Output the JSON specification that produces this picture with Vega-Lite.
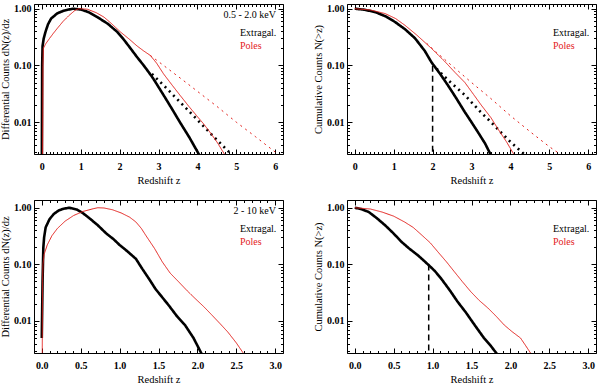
{
  "$schema": "https://vega.github.io/schema/vega-lite/v6.json",
  "padding": {"left": 0, "top": 3, "right": 0, "bottom": 0},
  "background": "white",
  "config": {
    "font": "Liberation Serif",
    "view": {"stroke": null},
    "axis": {
      "labelFont": "Liberation Serif", "titleFont": "Liberation Serif",
      "labelFontWeight": "bold", "labelFontSize": 10, "labelColor": "black",
      "titleFontSize": 10.5, "titleFontWeight": "normal", "titleColor": "black",
      "domainColor": "black", "domainWidth": 1, "tickColor": "black", "tickWidth": 1, "grid": false
    },
    "legend": {
      "orient": "top-right", "offset": 6, "padding": 0,
      "titleFont": "Liberation Serif", "titleFontSize": 10, "titleFontWeight": "normal", "titleColor": "black",
      "titleAnchor": "end", "titlePadding": 8,
      "labelFont": "Liberation Serif", "labelFontSize": 10, "labelOffset": 13, "rowPadding": 3,
      "symbolSize": 0, "symbolStrokeWidth": 0, "symbolOpacity": 0
    }
  },
  "datasets": {
    "d1": [
      {"s":"Extragal.","k":"solid","z":0.0,"n":0.001},{"s":"Extragal.","k":"solid","z":0.01,"n":0.1},{"s":"Extragal.","k":"solid","z":0.02,"n":0.22},{"s":"Extragal.","k":"solid","z":0.05,"n":0.3},{"s":"Extragal.","k":"solid","z":0.1,"n":0.4},{"s":"Extragal.","k":"solid","z":0.16,"n":0.53},{"s":"Extragal.","k":"solid","z":0.24,"n":0.67},{"s":"Extragal.","k":"solid","z":0.4,"n":0.83},{"s":"Extragal.","k":"solid","z":0.58,"n":0.93},{"s":"Extragal.","k":"solid","z":0.8,"n":1.0},{"s":"Extragal.","k":"solid","z":1.0,"n":0.97},{"s":"Extragal.","k":"solid","z":1.2,"n":0.87},{"s":"Extragal.","k":"solid","z":1.43,"n":0.71},{"s":"Extragal.","k":"solid","z":1.7,"n":0.54},{"s":"Extragal.","k":"solid","z":1.94,"n":0.39},{"s":"Extragal.","k":"solid","z":2.1,"n":0.29},{"s":"Extragal.","k":"solid","z":2.28,"n":0.2},{"s":"Extragal.","k":"solid","z":2.45,"n":0.14},{"s":"Extragal.","k":"solid","z":2.62,"n":0.1},{"s":"Extragal.","k":"solid","z":2.8,"n":0.068},{"s":"Extragal.","k":"solid","z":2.87,"n":0.058},{"s":"Extragal.","k":"solid","z":3.13,"n":0.03},{"s":"Extragal.","k":"solid","z":3.35,"n":0.017},{"s":"Extragal.","k":"solid","z":3.55,"n":0.01},{"s":"Extragal.","k":"solid","z":3.8,"n":0.0053},{"s":"Extragal.","k":"solid","z":4.04,"n":0.0027},{"s":"Extragal.","k":"solid","z":4.1,"n":0.0023},
      {"s":"Extragal.","k":"dotted","z":2.83,"n":0.071},{"s":"Extragal.","k":"dotted","z":3.2,"n":0.04},{"s":"Extragal.","k":"dotted","z":3.6,"n":0.021},{"s":"Extragal.","k":"dotted","z":4.0,"n":0.011},{"s":"Extragal.","k":"dotted","z":4.4,"n":0.0057},{"s":"Extragal.","k":"dotted","z":4.9,"n":0.0026},{"s":"Extragal.","k":"dotted","z":4.95,"n":0.0024},
      {"s":"Poles","k":"solid","z":0.02,"n":0.001},{"s":"Poles","k":"solid","z":0.03,"n":0.1},{"s":"Poles","k":"solid","z":0.04,"n":0.2},{"s":"Poles","k":"solid","z":0.1,"n":0.24},{"s":"Poles","k":"solid","z":0.2,"n":0.3},{"s":"Poles","k":"solid","z":0.3,"n":0.37},{"s":"Poles","k":"solid","z":0.41,"n":0.46},{"s":"Poles","k":"solid","z":0.55,"n":0.6},{"s":"Poles","k":"solid","z":0.7,"n":0.76},{"s":"Poles","k":"solid","z":0.85,"n":0.93},{"s":"Poles","k":"solid","z":0.95,"n":1.0},{"s":"Poles","k":"solid","z":1.17,"n":0.98},{"s":"Poles","k":"solid","z":1.4,"n":0.85},{"s":"Poles","k":"solid","z":1.6,"n":0.71},{"s":"Poles","k":"solid","z":1.8,"n":0.54},{"s":"Poles","k":"solid","z":2.02,"n":0.39},{"s":"Poles","k":"solid","z":2.25,"n":0.29},{"s":"Poles","k":"solid","z":2.45,"n":0.22},{"s":"Poles","k":"solid","z":2.62,"n":0.18},{"s":"Poles","k":"solid","z":2.79,"n":0.15},{"s":"Poles","k":"solid","z":2.95,"n":0.11},{"s":"Poles","k":"solid","z":3.13,"n":0.071},{"s":"Poles","k":"solid","z":3.35,"n":0.045},{"s":"Poles","k":"solid","z":3.55,"n":0.03},{"s":"Poles","k":"solid","z":3.78,"n":0.019},{"s":"Poles","k":"solid","z":3.98,"n":0.013},{"s":"Poles","k":"solid","z":4.15,"n":0.0095},{"s":"Poles","k":"solid","z":4.32,"n":0.0067},{"s":"Poles","k":"solid","z":4.5,"n":0.0045},{"s":"Poles","k":"solid","z":4.7,"n":0.0027},{"s":"Poles","k":"solid","z":4.75,"n":0.0023},
      {"s":"Poles","k":"dotted","z":2.79,"n":0.15},{"s":"Poles","k":"dotted","z":3.2,"n":0.092},{"s":"Poles","k":"dotted","z":3.6,"n":0.057},{"s":"Poles","k":"dotted","z":4.0,"n":0.035},{"s":"Poles","k":"dotted","z":4.5,"n":0.019},{"s":"Poles","k":"dotted","z":5.0,"n":0.01},{"s":"Poles","k":"dotted","z":5.5,"n":0.0055},{"s":"Poles","k":"dotted","z":6.05,"n":0.0028},{"s":"Poles","k":"dotted","z":6.1,"n":0.0026}
    ],
    "d2": [
      {"s":"Extragal.","k":"solid","z":0.0,"n":1.0},{"s":"Extragal.","k":"solid","z":0.25,"n":0.96},{"s":"Extragal.","k":"solid","z":0.53,"n":0.87},{"s":"Extragal.","k":"solid","z":0.8,"n":0.73},{"s":"Extragal.","k":"solid","z":1.04,"n":0.58},{"s":"Extragal.","k":"solid","z":1.3,"n":0.43},{"s":"Extragal.","k":"solid","z":1.55,"n":0.3},{"s":"Extragal.","k":"solid","z":1.8,"n":0.18},{"s":"Extragal.","k":"solid","z":1.97,"n":0.114},{"s":"Extragal.","k":"solid","z":2.2,"n":0.07},{"s":"Extragal.","k":"solid","z":2.4,"n":0.044},{"s":"Extragal.","k":"solid","z":2.6,"n":0.027},{"s":"Extragal.","k":"solid","z":2.83,"n":0.015},{"s":"Extragal.","k":"solid","z":3.0,"n":0.01},{"s":"Extragal.","k":"solid","z":3.17,"n":0.0066},{"s":"Extragal.","k":"solid","z":3.35,"n":0.0042},{"s":"Extragal.","k":"solid","z":3.49,"n":0.0027},{"s":"Extragal.","k":"solid","z":3.55,"n":0.0022},
      {"s":"Extragal.","k":"dotted","z":2.1,"n":0.088},{"s":"Extragal.","k":"dotted","z":2.4,"n":0.055},{"s":"Extragal.","k":"dotted","z":2.83,"n":0.03},{"s":"Extragal.","k":"dotted","z":3.2,"n":0.016},{"s":"Extragal.","k":"dotted","z":3.5,"n":0.01},{"s":"Extragal.","k":"dotted","z":4.0,"n":0.0045},{"s":"Extragal.","k":"dotted","z":4.36,"n":0.0027},{"s":"Extragal.","k":"dotted","z":4.45,"n":0.0023},
      {"s":"Poles","k":"solid","z":0.0,"n":1.0},{"s":"Poles","k":"solid","z":0.4,"n":0.95},{"s":"Poles","k":"solid","z":0.78,"n":0.82},{"s":"Poles","k":"solid","z":1.05,"n":0.67},{"s":"Poles","k":"solid","z":1.29,"n":0.51},{"s":"Poles","k":"solid","z":1.6,"n":0.34},{"s":"Poles","k":"solid","z":1.97,"n":0.2},{"s":"Poles","k":"solid","z":2.3,"n":0.12},{"s":"Poles","k":"solid","z":2.57,"n":0.076},{"s":"Poles","k":"solid","z":2.83,"n":0.05},{"s":"Poles","k":"solid","z":3.05,"n":0.031},{"s":"Poles","k":"solid","z":3.25,"n":0.02},{"s":"Poles","k":"solid","z":3.5,"n":0.012},{"s":"Poles","k":"solid","z":3.68,"n":0.0076},{"s":"Poles","k":"solid","z":3.9,"n":0.0045},{"s":"Poles","k":"solid","z":4.09,"n":0.0027},{"s":"Poles","k":"solid","z":4.15,"n":0.0023},
      {"s":"Poles","k":"dotted","z":1.85,"n":0.245},{"s":"Poles","k":"dotted","z":2.1,"n":0.17},{"s":"Poles","k":"dotted","z":2.49,"n":0.1},{"s":"Poles","k":"dotted","z":3.0,"n":0.05},{"s":"Poles","k":"dotted","z":3.5,"n":0.026},{"s":"Poles","k":"dotted","z":4.0,"n":0.013},{"s":"Poles","k":"dotted","z":4.53,"n":0.0066},{"s":"Poles","k":"dotted","z":5.0,"n":0.0037},{"s":"Poles","k":"dotted","z":5.29,"n":0.0027},{"s":"Poles","k":"dotted","z":5.35,"n":0.0024}
    ],
    "d3": [
      {"s":"Extragal.","k":"solid","z":0.0,"n":0.005},{"s":"Extragal.","k":"solid","z":0.01,"n":0.05},{"s":"Extragal.","k":"solid","z":0.02,"n":0.2},{"s":"Extragal.","k":"solid","z":0.03,"n":0.3},{"s":"Extragal.","k":"solid","z":0.05,"n":0.45},{"s":"Extragal.","k":"solid","z":0.1,"n":0.63},{"s":"Extragal.","k":"solid","z":0.156,"n":0.78},{"s":"Extragal.","k":"solid","z":0.22,"n":0.9},{"s":"Extragal.","k":"solid","z":0.28,"n":0.96},{"s":"Extragal.","k":"solid","z":0.35,"n":1.0},{"s":"Extragal.","k":"solid","z":0.45,"n":0.93},{"s":"Extragal.","k":"solid","z":0.53,"n":0.8},{"s":"Extragal.","k":"solid","z":0.62,"n":0.64},{"s":"Extragal.","k":"solid","z":0.72,"n":0.49},{"s":"Extragal.","k":"solid","z":0.83,"n":0.35},{"s":"Extragal.","k":"solid","z":0.92,"n":0.28},{"s":"Extragal.","k":"solid","z":1.0,"n":0.22},{"s":"Extragal.","k":"solid","z":1.1,"n":0.17},{"s":"Extragal.","k":"solid","z":1.21,"n":0.125},{"s":"Extragal.","k":"solid","z":1.29,"n":0.084},{"s":"Extragal.","k":"solid","z":1.38,"n":0.055},{"s":"Extragal.","k":"solid","z":1.46,"n":0.037},{"s":"Extragal.","k":"solid","z":1.55,"n":0.026},{"s":"Extragal.","k":"solid","z":1.63,"n":0.019},{"s":"Extragal.","k":"solid","z":1.74,"n":0.012},{"s":"Extragal.","k":"solid","z":1.84,"n":0.0085},{"s":"Extragal.","k":"solid","z":1.95,"n":0.005},{"s":"Extragal.","k":"solid","z":2.05,"n":0.0027},{"s":"Extragal.","k":"solid","z":2.08,"n":0.0023},
      {"s":"Poles","k":"solid","z":0.005,"n":0.001},{"s":"Poles","k":"solid","z":0.01,"n":0.05},{"s":"Poles","k":"solid","z":0.015,"n":0.1},{"s":"Poles","k":"solid","z":0.03,"n":0.15},{"s":"Poles","k":"solid","z":0.07,"n":0.22},{"s":"Poles","k":"solid","z":0.13,"n":0.32},{"s":"Poles","k":"solid","z":0.2,"n":0.43},{"s":"Poles","k":"solid","z":0.3,"n":0.58},{"s":"Poles","k":"solid","z":0.41,"n":0.73},{"s":"Poles","k":"solid","z":0.53,"n":0.86},{"s":"Poles","k":"solid","z":0.66,"n":0.96},{"s":"Poles","k":"solid","z":0.72,"n":1.0},{"s":"Poles","k":"solid","z":0.8,"n":0.99},{"s":"Poles","k":"solid","z":0.91,"n":0.92},{"s":"Poles","k":"solid","z":1.02,"n":0.81},{"s":"Poles","k":"solid","z":1.13,"n":0.68},{"s":"Poles","k":"solid","z":1.21,"n":0.56},{"s":"Poles","k":"solid","z":1.28,"n":0.43},{"s":"Poles","k":"solid","z":1.34,"n":0.32},{"s":"Poles","k":"solid","z":1.45,"n":0.19},{"s":"Poles","k":"solid","z":1.55,"n":0.11},{"s":"Poles","k":"solid","z":1.65,"n":0.07},{"s":"Poles","k":"solid","z":1.76,"n":0.049},{"s":"Poles","k":"solid","z":1.87,"n":0.034},{"s":"Poles","k":"solid","z":1.97,"n":0.025},{"s":"Poles","k":"solid","z":2.08,"n":0.018},{"s":"Poles","k":"solid","z":2.18,"n":0.013},{"s":"Poles","k":"solid","z":2.29,"n":0.009},{"s":"Poles","k":"solid","z":2.39,"n":0.0064},{"s":"Poles","k":"solid","z":2.5,"n":0.0041},{"s":"Poles","k":"solid","z":2.59,"n":0.0027},{"s":"Poles","k":"solid","z":2.62,"n":0.0024}
    ],
    "d4": [
      {"s":"Extragal.","k":"solid","z":0.0,"n":1.0},{"s":"Extragal.","k":"solid","z":0.08,"n":0.95},{"s":"Extragal.","k":"solid","z":0.18,"n":0.84},{"s":"Extragal.","k":"solid","z":0.28,"n":0.66},{"s":"Extragal.","k":"solid","z":0.39,"n":0.49},{"s":"Extragal.","k":"solid","z":0.5,"n":0.35},{"s":"Extragal.","k":"solid","z":0.6,"n":0.25},{"s":"Extragal.","k":"solid","z":0.7,"n":0.19},{"s":"Extragal.","k":"solid","z":0.81,"n":0.145},{"s":"Extragal.","k":"solid","z":0.94,"n":0.1},{"s":"Extragal.","k":"solid","z":1.03,"n":0.076},{"s":"Extragal.","k":"solid","z":1.11,"n":0.056},{"s":"Extragal.","k":"solid","z":1.22,"n":0.035},{"s":"Extragal.","k":"solid","z":1.32,"n":0.022},{"s":"Extragal.","k":"solid","z":1.43,"n":0.014},{"s":"Extragal.","k":"solid","z":1.54,"n":0.0085},{"s":"Extragal.","k":"solid","z":1.66,"n":0.005},{"s":"Extragal.","k":"solid","z":1.75,"n":0.0036},{"s":"Extragal.","k":"solid","z":1.82,"n":0.0027},{"s":"Extragal.","k":"solid","z":1.86,"n":0.0023},
      {"s":"Poles","k":"solid","z":0.0,"n":1.0},{"s":"Poles","k":"solid","z":0.2,"n":0.95},{"s":"Poles","k":"solid","z":0.35,"n":0.84},{"s":"Poles","k":"solid","z":0.5,"n":0.71},{"s":"Poles","k":"solid","z":0.64,"n":0.56},{"s":"Poles","k":"solid","z":0.75,"n":0.45},{"s":"Poles","k":"solid","z":0.86,"n":0.33},{"s":"Poles","k":"solid","z":0.97,"n":0.24},{"s":"Poles","k":"solid","z":1.07,"n":0.165},{"s":"Poles","k":"solid","z":1.18,"n":0.11},{"s":"Poles","k":"solid","z":1.28,"n":0.074},{"s":"Poles","k":"solid","z":1.38,"n":0.05},{"s":"Poles","k":"solid","z":1.49,"n":0.033},{"s":"Poles","k":"solid","z":1.6,"n":0.023},{"s":"Poles","k":"solid","z":1.71,"n":0.017},{"s":"Poles","k":"solid","z":1.82,"n":0.012},{"s":"Poles","k":"solid","z":1.92,"n":0.0085},{"s":"Poles","k":"solid","z":2.02,"n":0.0065},{"s":"Poles","k":"solid","z":2.13,"n":0.005},{"s":"Poles","k":"solid","z":2.2,"n":0.0036},{"s":"Poles","k":"solid","z":2.26,"n":0.0027},{"s":"Poles","k":"solid","z":2.3,"n":0.0023}
    ]
  },
  "columns": 2,
  "spacing": {"row": 46, "column": 64},
  "bounds": "flush",
  "resolve": {"scale": {"color": "independent", "strokeDash": "independent"}},
  "concat": [
    {
      "width": 249, "height": 150,
      "data": {"name": "d1"},
      "layer": [
        {
          "transform": [{"filter": "datum.s === 'Extragal.'"}],
          "mark": {"type": "line", "strokeWidth": 2.6, "clip": true},
          "encoding": {
            "x": {"field": "z", "type": "quantitative", "scale": {"domain": [-0.2, 6.2], "nice": false, "zero": false},
              "axis": {"orient": "bottom", "values": [-0.2,-0.1,0,0.1,0.2,0.3,0.4,0.5,0.6,0.7,0.8,0.9,1,1.1,1.2,1.3,1.4,1.5,1.6,1.7,1.8,1.9,2,2.1,2.2,2.3,2.4,2.5,2.6,2.7,2.8,2.9,3,3.1,3.2,3.3,3.4,3.5,3.6,3.7,3.8,3.9,4,4.1,4.2,4.3,4.4,4.5,4.6,4.7,4.8,4.9,5,5.1,5.2,5.3,5.4,5.5,5.6,5.7,5.8,5.9,6,6.1,6.2],
                "tickSize": {"condition": {"test": "abs(datum.value - round(datum.value)) < 0.01", "value": -5}, "value": -2.5},
                "labelExpr": "abs(datum.value - round(datum.value)) < 0.01 ? format(datum.value, 'd') : ''",
                "labelPadding": 12, "labelOverlap": false, "labelFlush": false, "title": "Redshift z", "titlePadding": 2}},
            "y": {"field": "n", "type": "quantitative", "scale": {"type": "log", "domain": [0.00275, 1.21], "nice": false},
              "axis": {"orient": "left", "values": [0.003,0.004,0.005,0.006,0.007,0.008,0.009,0.01,0.02,0.03,0.04,0.05,0.06,0.07,0.08,0.09,0.1,0.2,0.3,0.4,0.5,0.6,0.7,0.8,0.9,1],
                "tickSize": {"condition": {"test": "abs(log(datum.value)/LN10 - round(log(datum.value)/LN10)) < 0.001", "value": -5}, "value": -2.5},
                "labelExpr": "abs(log(datum.value)/LN10 - round(log(datum.value)/LN10)) < 0.001 ? format(datum.value, '.2f') : ''",
                "labelPadding": 8, "labelOverlap": false, "labelFlush": false, "title": "Differential Counts  dN(z)/dz", "titlePadding": 3}},
            "color": {"field": "s", "type": "nominal", "scale": {"domain": ["Extragal.", "Poles"], "range": ["black", "#e3201c"]},
              "legend": {"title": "0.5 - 2.0 keV", "labelColor": {"expr": "datum.value === 'Poles' ? '#e3201c' : 'black'"}}},
            "strokeDash": {"field": "k", "type": "nominal", "scale": {"domain": ["solid", "dotted"], "range": [[1, 0], [2, 4]]}, "legend": null}
          }
        },
        {
          "transform": [{"filter": "datum.s === 'Poles'"}],
          "mark": {"type": "line", "strokeWidth": 1, "clip": true},
          "encoding": {
            "x": {"field": "z", "type": "quantitative",
              "axis": {"orient": "top", "values": [-0.2,-0.1,0,0.1,0.2,0.3,0.4,0.5,0.6,0.7,0.8,0.9,1,1.1,1.2,1.3,1.4,1.5,1.6,1.7,1.8,1.9,2,2.1,2.2,2.3,2.4,2.5,2.6,2.7,2.8,2.9,3,3.1,3.2,3.3,3.4,3.5,3.6,3.7,3.8,3.9,4,4.1,4.2,4.3,4.4,4.5,4.6,4.7,4.8,4.9,5,5.1,5.2,5.3,5.4,5.5,5.6,5.7,5.8,5.9,6,6.1,6.2],
                "tickSize": {"condition": {"test": "abs(datum.value - round(datum.value)) < 0.01", "value": -5}, "value": -2.5},
                "labels": false, "title": null}},
            "y": {"field": "n", "type": "quantitative",
              "axis": {"orient": "right", "values": [0.003,0.004,0.005,0.006,0.007,0.008,0.009,0.01,0.02,0.03,0.04,0.05,0.06,0.07,0.08,0.09,0.1,0.2,0.3,0.4,0.5,0.6,0.7,0.8,0.9,1],
                "tickSize": {"condition": {"test": "abs(log(datum.value)/LN10 - round(log(datum.value)/LN10)) < 0.001", "value": -5}, "value": -2.5},
                "labels": false, "title": null}},
            "color": {"field": "s", "type": "nominal", "scale": {"domain": ["Extragal.", "Poles"], "range": ["black", "#e3201c"]},
              "legend": {"title": "0.5 - 2.0 keV", "labelColor": {"expr": "datum.value === 'Poles' ? '#e3201c' : 'black'"}}},
            "strokeDash": {"field": "k", "type": "nominal", "scale": {"domain": ["solid", "dotted"], "range": [[1, 0], [2, 4]]}, "legend": null}
          }
        }
      ]
    },
    {
      "width": 249, "height": 150,
      "data": {"name": "d2"},
      "layer": [
        {
          "transform": [{"filter": "datum.s === 'Extragal.'"}],
          "mark": {"type": "line", "strokeWidth": 2.6, "clip": true},
          "encoding": {
            "x": {"field": "z", "type": "quantitative", "scale": {"domain": [-0.2, 6.2], "nice": false, "zero": false},
              "axis": {"orient": "bottom", "values": [-0.2,-0.1,0,0.1,0.2,0.3,0.4,0.5,0.6,0.7,0.8,0.9,1,1.1,1.2,1.3,1.4,1.5,1.6,1.7,1.8,1.9,2,2.1,2.2,2.3,2.4,2.5,2.6,2.7,2.8,2.9,3,3.1,3.2,3.3,3.4,3.5,3.6,3.7,3.8,3.9,4,4.1,4.2,4.3,4.4,4.5,4.6,4.7,4.8,4.9,5,5.1,5.2,5.3,5.4,5.5,5.6,5.7,5.8,5.9,6,6.1,6.2],
                "tickSize": {"condition": {"test": "abs(datum.value - round(datum.value)) < 0.01", "value": -5}, "value": -2.5},
                "labelExpr": "abs(datum.value - round(datum.value)) < 0.01 ? format(datum.value, 'd') : ''",
                "labelPadding": 12, "labelOverlap": false, "labelFlush": false, "title": "Redshift z", "titlePadding": 2}},
            "y": {"field": "n", "type": "quantitative", "scale": {"type": "log", "domain": [0.00275, 1.21], "nice": false},
              "axis": {"orient": "left", "values": [0.003,0.004,0.005,0.006,0.007,0.008,0.009,0.01,0.02,0.03,0.04,0.05,0.06,0.07,0.08,0.09,0.1,0.2,0.3,0.4,0.5,0.6,0.7,0.8,0.9,1],
                "tickSize": {"condition": {"test": "abs(log(datum.value)/LN10 - round(log(datum.value)/LN10)) < 0.001", "value": -5}, "value": -2.5},
                "labelExpr": "abs(log(datum.value)/LN10 - round(log(datum.value)/LN10)) < 0.001 ? format(datum.value, '.2f') : ''",
                "labelPadding": 8, "labelOverlap": false, "labelFlush": false, "title": "Cumulative Counts  N(>z)", "titlePadding": 3}},
            "color": {"field": "s", "type": "nominal", "scale": {"domain": ["Extragal.", "Poles"], "range": ["black", "#e3201c"]},
              "legend": {"title": " ", "labelColor": {"expr": "datum.value === 'Poles' ? '#e3201c' : 'black'"}}},
            "strokeDash": {"field": "k", "type": "nominal", "scale": {"domain": ["solid", "dotted"], "range": [[1, 0], [2, 4]]}, "legend": null}
          }
        },
        {
          "transform": [{"filter": "datum.s === 'Poles'"}],
          "mark": {"type": "line", "strokeWidth": 1, "clip": true},
          "encoding": {
            "x": {"field": "z", "type": "quantitative",
              "axis": {"orient": "top", "values": [-0.2,-0.1,0,0.1,0.2,0.3,0.4,0.5,0.6,0.7,0.8,0.9,1,1.1,1.2,1.3,1.4,1.5,1.6,1.7,1.8,1.9,2,2.1,2.2,2.3,2.4,2.5,2.6,2.7,2.8,2.9,3,3.1,3.2,3.3,3.4,3.5,3.6,3.7,3.8,3.9,4,4.1,4.2,4.3,4.4,4.5,4.6,4.7,4.8,4.9,5,5.1,5.2,5.3,5.4,5.5,5.6,5.7,5.8,5.9,6,6.1,6.2],
                "tickSize": {"condition": {"test": "abs(datum.value - round(datum.value)) < 0.01", "value": -5}, "value": -2.5},
                "labels": false, "title": null}},
            "y": {"field": "n", "type": "quantitative",
              "axis": {"orient": "right", "values": [0.003,0.004,0.005,0.006,0.007,0.008,0.009,0.01,0.02,0.03,0.04,0.05,0.06,0.07,0.08,0.09,0.1,0.2,0.3,0.4,0.5,0.6,0.7,0.8,0.9,1],
                "tickSize": {"condition": {"test": "abs(log(datum.value)/LN10 - round(log(datum.value)/LN10)) < 0.001", "value": -5}, "value": -2.5},
                "labels": false, "title": null}},
            "color": {"field": "s", "type": "nominal", "scale": {"domain": ["Extragal.", "Poles"], "range": ["black", "#e3201c"]},
              "legend": {"title": " ", "labelColor": {"expr": "datum.value === 'Poles' ? '#e3201c' : 'black'"}}},
            "strokeDash": {"field": "k", "type": "nominal", "scale": {"domain": ["solid", "dotted"], "range": [[1, 0], [2, 4]]}, "legend": null}
          }
        },
        {
          "data": {"values": [{"z": 2, "lo": 0.002, "hi": 0.1}]},
          "mark": {"type": "rule", "color": "black", "strokeWidth": 1.5, "strokeDash": [6, 4], "clip": true},
          "encoding": {
            "x": {"field": "z", "type": "quantitative", "axis": null},
            "y": {"field": "lo", "type": "quantitative", "axis": null},
            "y2": {"field": "hi"}
          }
        }
      ]
    },
    {
      "width": 249, "height": 153,
      "data": {"name": "d3"},
      "layer": [
        {
          "transform": [{"filter": "datum.s === 'Extragal.'"}],
          "mark": {"type": "line", "strokeWidth": 2.6, "clip": true},
          "encoding": {
            "x": {"field": "z", "type": "quantitative", "scale": {"domain": [-0.1, 3.1], "nice": false, "zero": false},
              "axis": {"orient": "bottom", "values": [-0.1,0,0.1,0.2,0.3,0.4,0.5,0.6,0.7,0.8,0.9,1,1.1,1.2,1.3,1.4,1.5,1.6,1.7,1.8,1.9,2,2.1,2.2,2.3,2.4,2.5,2.6,2.7,2.8,2.9,3,3.1],
                "tickSize": {"condition": {"test": "abs(datum.value*2 - round(datum.value*2)) < 0.01", "value": -5}, "value": -2.5},
                "labelExpr": "abs(datum.value*2 - round(datum.value*2)) < 0.01 ? format(datum.value, '.1f') : ''",
                "labelPadding": 12, "labelOverlap": false, "labelFlush": false, "title": "Redshift z", "titlePadding": 2}},
            "y": {"field": "n", "type": "quantitative", "scale": {"type": "log", "domain": [0.00272, 1.37], "nice": false},
              "axis": {"orient": "left", "values": [0.003,0.004,0.005,0.006,0.007,0.008,0.009,0.01,0.02,0.03,0.04,0.05,0.06,0.07,0.08,0.09,0.1,0.2,0.3,0.4,0.5,0.6,0.7,0.8,0.9,1],
                "tickSize": {"condition": {"test": "abs(log(datum.value)/LN10 - round(log(datum.value)/LN10)) < 0.001", "value": -5}, "value": -2.5},
                "labelExpr": "abs(log(datum.value)/LN10 - round(log(datum.value)/LN10)) < 0.001 ? format(datum.value, '.2f') : ''",
                "labelPadding": 8, "labelOverlap": false, "labelFlush": false, "title": "Differential Counts  dN(z)/dz", "titlePadding": 3}},
            "color": {"field": "s", "type": "nominal", "scale": {"domain": ["Extragal.", "Poles"], "range": ["black", "#e3201c"]},
              "legend": {"title": "2 - 10 keV", "labelColor": {"expr": "datum.value === 'Poles' ? '#e3201c' : 'black'"}}},
            "strokeDash": {"field": "k", "type": "nominal", "scale": {"domain": ["solid", "dotted"], "range": [[1, 0], [2, 4]]}, "legend": null}
          }
        },
        {
          "transform": [{"filter": "datum.s === 'Poles'"}],
          "mark": {"type": "line", "strokeWidth": 1, "clip": true},
          "encoding": {
            "x": {"field": "z", "type": "quantitative",
              "axis": {"orient": "top", "values": [-0.1,0,0.1,0.2,0.3,0.4,0.5,0.6,0.7,0.8,0.9,1,1.1,1.2,1.3,1.4,1.5,1.6,1.7,1.8,1.9,2,2.1,2.2,2.3,2.4,2.5,2.6,2.7,2.8,2.9,3,3.1],
                "tickSize": {"condition": {"test": "abs(datum.value*2 - round(datum.value*2)) < 0.01", "value": -5}, "value": -2.5},
                "labels": false, "title": null}},
            "y": {"field": "n", "type": "quantitative",
              "axis": {"orient": "right", "values": [0.003,0.004,0.005,0.006,0.007,0.008,0.009,0.01,0.02,0.03,0.04,0.05,0.06,0.07,0.08,0.09,0.1,0.2,0.3,0.4,0.5,0.6,0.7,0.8,0.9,1],
                "tickSize": {"condition": {"test": "abs(log(datum.value)/LN10 - round(log(datum.value)/LN10)) < 0.001", "value": -5}, "value": -2.5},
                "labels": false, "title": null}},
            "color": {"field": "s", "type": "nominal", "scale": {"domain": ["Extragal.", "Poles"], "range": ["black", "#e3201c"]},
              "legend": {"title": "2 - 10 keV", "labelColor": {"expr": "datum.value === 'Poles' ? '#e3201c' : 'black'"}}},
            "strokeDash": {"field": "k", "type": "nominal", "scale": {"domain": ["solid", "dotted"], "range": [[1, 0], [2, 4]]}, "legend": null}
          }
        }
      ]
    },
    {
      "width": 249, "height": 153,
      "data": {"name": "d4"},
      "layer": [
        {
          "transform": [{"filter": "datum.s === 'Extragal.'"}],
          "mark": {"type": "line", "strokeWidth": 2.6, "clip": true},
          "encoding": {
            "x": {"field": "z", "type": "quantitative", "scale": {"domain": [-0.1, 3.1], "nice": false, "zero": false},
              "axis": {"orient": "bottom", "values": [-0.1,0,0.1,0.2,0.3,0.4,0.5,0.6,0.7,0.8,0.9,1,1.1,1.2,1.3,1.4,1.5,1.6,1.7,1.8,1.9,2,2.1,2.2,2.3,2.4,2.5,2.6,2.7,2.8,2.9,3,3.1],
                "tickSize": {"condition": {"test": "abs(datum.value*2 - round(datum.value*2)) < 0.01", "value": -5}, "value": -2.5},
                "labelExpr": "abs(datum.value*2 - round(datum.value*2)) < 0.01 ? format(datum.value, '.1f') : ''",
                "labelPadding": 12, "labelOverlap": false, "labelFlush": false, "title": "Redshift z", "titlePadding": 2}},
            "y": {"field": "n", "type": "quantitative", "scale": {"type": "log", "domain": [0.00272, 1.37], "nice": false},
              "axis": {"orient": "left", "values": [0.003,0.004,0.005,0.006,0.007,0.008,0.009,0.01,0.02,0.03,0.04,0.05,0.06,0.07,0.08,0.09,0.1,0.2,0.3,0.4,0.5,0.6,0.7,0.8,0.9,1],
                "tickSize": {"condition": {"test": "abs(log(datum.value)/LN10 - round(log(datum.value)/LN10)) < 0.001", "value": -5}, "value": -2.5},
                "labelExpr": "abs(log(datum.value)/LN10 - round(log(datum.value)/LN10)) < 0.001 ? format(datum.value, '.2f') : ''",
                "labelPadding": 8, "labelOverlap": false, "labelFlush": false, "title": "Cumulative Counts  N(>z)", "titlePadding": 3}},
            "color": {"field": "s", "type": "nominal", "scale": {"domain": ["Extragal.", "Poles"], "range": ["black", "#e3201c"]},
              "legend": {"title": " ", "labelColor": {"expr": "datum.value === 'Poles' ? '#e3201c' : 'black'"}}},
            "strokeDash": {"field": "k", "type": "nominal", "scale": {"domain": ["solid", "dotted"], "range": [[1, 0], [2, 4]]}, "legend": null}
          }
        },
        {
          "transform": [{"filter": "datum.s === 'Poles'"}],
          "mark": {"type": "line", "strokeWidth": 1, "clip": true},
          "encoding": {
            "x": {"field": "z", "type": "quantitative",
              "axis": {"orient": "top", "values": [-0.1,0,0.1,0.2,0.3,0.4,0.5,0.6,0.7,0.8,0.9,1,1.1,1.2,1.3,1.4,1.5,1.6,1.7,1.8,1.9,2,2.1,2.2,2.3,2.4,2.5,2.6,2.7,2.8,2.9,3,3.1],
                "tickSize": {"condition": {"test": "abs(datum.value*2 - round(datum.value*2)) < 0.01", "value": -5}, "value": -2.5},
                "labels": false, "title": null}},
            "y": {"field": "n", "type": "quantitative",
              "axis": {"orient": "right", "values": [0.003,0.004,0.005,0.006,0.007,0.008,0.009,0.01,0.02,0.03,0.04,0.05,0.06,0.07,0.08,0.09,0.1,0.2,0.3,0.4,0.5,0.6,0.7,0.8,0.9,1],
                "tickSize": {"condition": {"test": "abs(log(datum.value)/LN10 - round(log(datum.value)/LN10)) < 0.001", "value": -5}, "value": -2.5},
                "labels": false, "title": null}},
            "color": {"field": "s", "type": "nominal", "scale": {"domain": ["Extragal.", "Poles"], "range": ["black", "#e3201c"]},
              "legend": {"title": " ", "labelColor": {"expr": "datum.value === 'Poles' ? '#e3201c' : 'black'"}}},
            "strokeDash": {"field": "k", "type": "nominal", "scale": {"domain": ["solid", "dotted"], "range": [[1, 0], [2, 4]]}, "legend": null}
          }
        },
        {
          "data": {"values": [{"z": 0.95, "lo": 0.002, "hi": 0.1}]},
          "mark": {"type": "rule", "color": "black", "strokeWidth": 1.5, "strokeDash": [6, 4], "clip": true},
          "encoding": {
            "x": {"field": "z", "type": "quantitative", "axis": null},
            "y": {"field": "lo", "type": "quantitative", "axis": null},
            "y2": {"field": "hi"}
          }
        }
      ]
    }
  ]
}
